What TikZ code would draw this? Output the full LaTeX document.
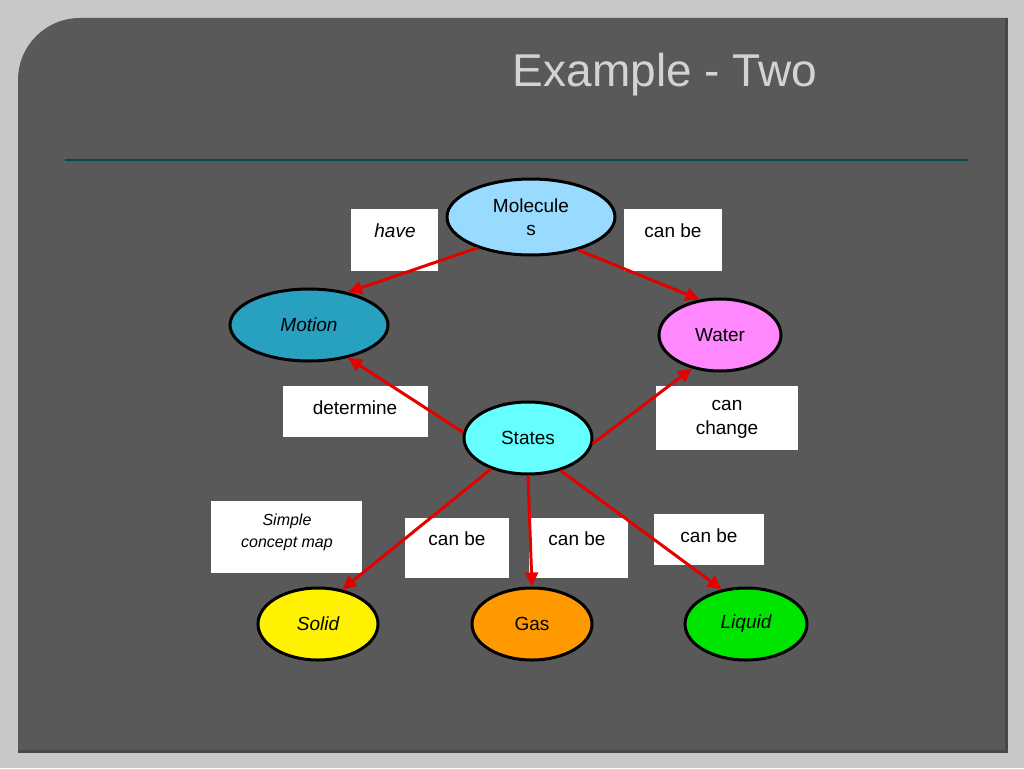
\documentclass[tikz,border=0pt]{standalone}
\usepackage{fontspec}
\setmainfont{Liberation Sans}
\usetikzlibrary{shapes.geometric,arrows.meta}
\definecolor{panel}{HTML}{595959}
\definecolor{rim}{HTML}{C8C8C8}
\tikzset{
  concept/.style={ellipse,draw=black,line width=3pt,font=\fontsize{19}{23}\selectfont,align=center,inner sep=0pt},
  linkbox/.style={fill=white,draw=none,anchor=north west,inner sep=0pt},
  linktext/.style={font=\fontsize{19}{24}\selectfont,align=center,inner sep=0pt},
  link/.style={draw=red!90!black,line width=3pt,-{Triangle[length=14pt,width=13pt]}}
}
\begin{document}
\begin{tikzpicture}[x=1pt,y=-1pt]
% Frame
\fill[rim] (0,0) rectangle (1024,768);
\fill[panel] (18,80) arc[start angle=180,end angle=90,x radius=62,y radius=-62] -- (1005,18) -- (1005,750) -- (18,750) -- cycle;
\fill[panel!80!black] (1005,18) rectangle (1008,752);
\fill[panel!80!black] (18,750) rectangle (1008,753);

% Title
\node[text=rim!80!white,font=\fontsize{46}{50}\selectfont] (title) at (665,75) {Example - Two};
\draw[color=teal!60!black,line width=1.5pt] (65,160) -- (968,160);

% Concepts
\node[concept,fill=blue!35!cyan!40,minimum width=168,minimum height=76] (molecules) at (531,217) {Molecule\\s};
\node[concept,fill={rgb,255:red,40;green,160;blue,192},minimum width=158,minimum height=72,font=\itshape\fontsize{19}{23}\selectfont] (motion) at (309,325) {Motion};
\node[concept,fill={rgb,255:red,255;green,136;blue,255},minimum width=122,minimum height=72] (water) at (720,335) {Water};
\node[concept,fill={rgb,255:red,102;green,255;blue,255},minimum width=128,minimum height=72] (states) at (528,438) {States};
\node[concept,fill=yellow,minimum width=120,minimum height=72,font=\itshape\fontsize{19}{23}\selectfont] (solid) at (318,624) {Solid};
\node[concept,fill={rgb,255:red,255;green,153;blue,0},minimum width=120,minimum height=72] (gas) at (532,624) {Gas};
\node[concept,fill=green!90!black,minimum width=122,minimum height=72,font=\itshape\fontsize{19}{23}\selectfont] (liquid) at (746,624) {Liquid};

% Link labels
\node[linkbox,minimum width=87,minimum height=62] (have) at (351,209) {};
\node[linktext,font=\itshape\fontsize{19}{24}\selectfont] (havet) at (395,231) {have};
\node[linkbox,minimum width=98,minimum height=62] (canbeA) at (624,209) {};
\node[linktext] (canbeAt) at (673,231) {can be};
\node[linkbox,minimum width=145,minimum height=51] (determine) at (283,386) {};
\node[linktext] (determinet) at (355,408) {determine};
\node[linkbox,minimum width=142,minimum height=64] (change) at (656,386) {};
\node[linktext] (changet) at (727,419) {can\\change};
\node[linkbox,minimum width=151,minimum height=72] (simple) at (211,501) {};
\node[linktext,font=\itshape\fontsize{16}{22}\selectfont] (simplet) at (287,532) {Simple\\concept map};
\node[linkbox,minimum width=104,minimum height=60] (canbeB) at (405,518) {};
\node[linktext] (canbeBt) at (457,539) {can be};
\node[linkbox,minimum width=99,minimum height=60] (canbeC) at (529,518) {};
\node[linktext] (canbeCt) at (577,539) {can be};
\node[linkbox,minimum width=110,minimum height=51] (canbeD) at (654,514) {};
\node[linktext] (canbeDt) at (709,536) {can be};

% Arrows
\draw[link] (molecules.-150) -- (motion.40);
\draw[link] (molecules.-35) -- (water.120);
\draw[link] (states.175) -- (motion.-40);
\draw[link] (states.-5) -- (water.-130);
\draw[link] (states.-140) -- (solid.55);
\draw[link] (states.south) -- (gas.north);
\draw[link] (states.-45) -- (liquid.125);
\end{tikzpicture}
\end{document}
